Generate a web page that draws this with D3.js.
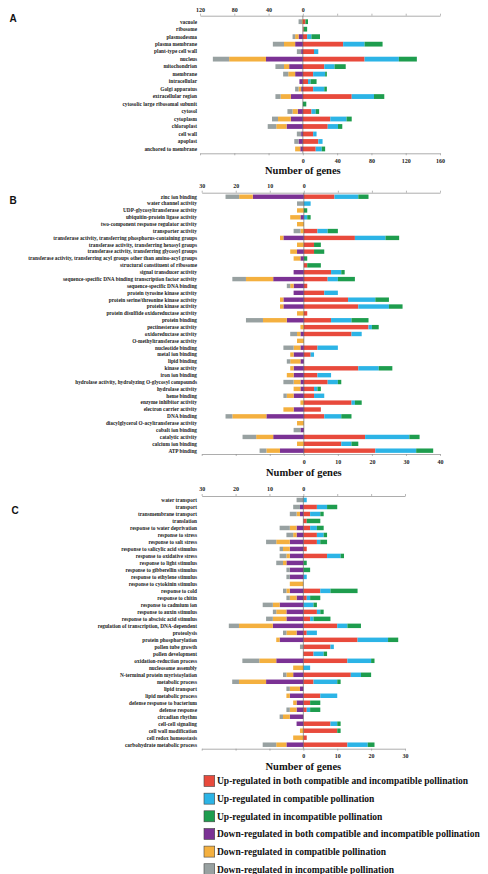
<!DOCTYPE html>
<html>
<head>
<meta charset="utf-8">
<script src="https://cdn.jsdelivr.net/npm/d3@7"></script>
<style>
  body { margin: 0; background: #fff; }
  svg text { font-family: "Liberation Serif", "Times New Roman", serif; font-weight: bold; }
</style>
</head>
<body>
<div id="chart"></div>
<script>
// series order: up-both, up-compatible, up-incompatible, down-both, down-compatible, down-incompatible
var seriesNames = [
  "Up-regulated in both compatible and incompatible pollination",
  "Up-regulated in compatible pollination",
  "Up-regulated in incompatible pollination",
  "Down-regulated in both compatible and incompatible pollination",
  "Down-regulated in compatible pollination",
  "Down-regulated in incompatible pollination"
];
var seriesColors = ["#e84a3c", "#2cb4e6", "#1e9d4e", "#7b3294", "#f4b03f", "#98a1a1"];

// Panel A - cellular component
var aCats = ["vacuole", "ribosome", "plasmodesma", "plasma membrane", "plant-type cell wall", "nucleus",
  "mitochondrion", "membrane", "intracellular", "Golgi apparatus", "extracellular region",
  "cytosolic large ribosomal subunit", "cytosol", "cytoplasm", "chloroplast", "cell wall", "apoplast",
  "anchored to membrane"];
var aUpBoth     = [3, 1, 5, 47, 13, 72, 25, 12, 6, 12, 57, 0, 10, 32, 29, 12, 18, 15];
var aUpComp     = [0, 0, 5, 25, 5, 40, 12, 14, 3, 13, 26, 0, 5, 19, 12, 4, 5, 7];
var aUpIncomp   = [3, 4, 10, 21, 0, 21, 13, 2, 7, 3, 12, 4, 4, 6, 5, 0, 0, 4];
var aDownBoth   = [0, 0, 5, 9, 2, 43, 16, 9, 4, 2, 14, 0, 6, 14, 19, 2, 5, 3];
var aDownComp   = [1, 0, 4, 13, 0, 43, 6, 8, 0, 3, 12, 0, 6, 15, 12, 0, 0, 6];
var aDownIncomp = [4, 0, 3, 13, 5, 19, 10, 6, 0, 4, 6, 0, 6, 7, 10, 5, 5, 0];
var aTicks = [-120, -80, -40, 0, 40, 80, 120, 160];

// Panel B - molecular function
var bCats = ["zinc ion binding", "water channel activity", "UDP-glycosyltransferase activity",
  "ubiquitin-protein ligase activity", "two-component response regulator activity", "transporter activity",
  "transferase activity, transferring phosphorus-containing groups",
  "transferase activity, transferring hexosyl groups", "transferase activity, transferring glycosyl groups",
  "transferase activity, transferring acyl groups other than amino-acyl groups",
  "structural constituent of ribosome", "signal transducer activity",
  "sequence-specific DNA binding transcription factor activity", "sequence-specific DNA binding",
  "protein tyrosine kinase activity", "protein serine/threonine kinase activity", "protein kinase activity",
  "protein disulfide oxidoreductase activity", "protein binding", "pectinesterase activity",
  "oxidoreductase activity", "O-methyltransferase activity", "nucleotide binding", "metal ion binding",
  "lipid binding", "kinase activity", "iron ion binding", "hydrolase activity, hydrolyzing O-glycosyl compounds",
  "hydrolase activity", "heme binding", "enzyme inhibitor activity", "electron carrier activity", "DNA binding",
  "diacylglycerol O-acyltransferase activity", "cobalt ion binding", "catalytic activity",
  "calcium ion binding", "ATP binding"];
var bUpBoth     = [9, 0, 0, 0, 0, 4, 15, 3, 3, 0, 1, 8, 7, 1, 6, 13, 16, 1, 8, 19, 14, 0, 4, 2, 0, 16, 4, 7, 3, 3, 14, 5, 6, 0, 0, 18, 11, 21];
var bUpComp     = [7, 2, 0, 1, 0, 3, 9, 0, 0, 0, 0, 3, 3, 0, 4, 8, 9, 0, 6, 1, 3, 0, 6, 1, 0, 6, 4, 3, 1, 3, 1, 0, 5, 0, 0, 13, 3, 12];
var bUpIncomp   = [3, 0, 1, 1, 0, 3, 4, 2, 3, 1, 4, 1, 5, 0, 0, 4, 4, 0, 5, 2, 0, 0, 0, 0, 0, 4, 0, 1, 1, 0, 2, 0, 3, 0, 0, 3, 2, 5];
var bDownBoth   = [15, 0, 0, 1, 0, 0, 6, 0, 2, 1, 0, 3, 9, 3, 3, 6, 6, 0, 5, 0, 1, 0, 1, 3, 1, 3, 3, 1, 1, 3, 0, 3, 11, 0, 1, 9, 0, 7];
var bDownComp   = [4, 0, 2, 3, 2, 1, 1, 2, 2, 2, 0, 0, 8, 1, 0, 1, 1, 2, 7, 1, 1, 2, 2, 1, 3, 1, 2, 2, 2, 2, 1, 3, 10, 2, 0, 5, 2, 4];
var bDownIncomp = [4, 2, 0, 0, 0, 2, 0, 0, 0, 0, 0, 0, 4, 1, 0, 0, 0, 0, 5, 0, 2, 0, 3, 0, 1, 0, 0, 3, 0, 1, 0, 0, 2, 0, 2, 4, 0, 2];
var bTicks = [-30, -20, -10, 0, 10, 20, 30, 40];

// Panel C - biological process
var cCats = ["water transport", "transport", "transmembrane transport", "translation",
  "response to water deprivation", "response to stress", "response to salt stress",
  "response to salicylic acid stimulus", "response to oxidative stress", "response to light stimulus",
  "response to gibberellin stimulus", "response to ethylene stimulus", "response to cytokinin stimulus",
  "response to cold", "response to chitin", "response to cadmium ion", "response to auxin stimulus",
  "response to abscisic acid stimulus", "regulation of transcription, DNA-dependent", "proteolysis",
  "protein phosphorylation", "pollen tube growth", "pollen development", "oxidation-reduction process",
  "nucleosome assembly", "N-terminal protein myristoylation", "metabolic process", "lipid transport",
  "lipid metabolic process", "defense response to bacterium", "defense response", "circadian rhythm",
  "cell-cell signaling", "cell wall modification", "cell redox homeostasis", "carbohydrate metabolic process"];
var cUpBoth     = [0, 4, 2, 1, 2, 4, 4, 1, 7, 0, 0, 0, 0, 5, 1, 0, 4, 2, 10, 1, 16, 8, 3, 13, 0, 14, 3, 0, 5, 2, 1, 0, 8, 10, 1, 13];
var cUpComp     = [1, 3, 3, 0, 2, 2, 1, 0, 4, 0, 0, 1, 0, 3, 1, 3, 1, 1, 3, 3, 9, 1, 3, 7, 2, 3, 7, 0, 5, 0, 1, 0, 2, 0, 0, 6];
var cUpIncomp   = [0, 3, 1, 4, 2, 1, 2, 0, 1, 1, 2, 0, 0, 8, 3, 1, 1, 5, 4, 0, 3, 0, 1, 1, 0, 3, 1, 0, 0, 3, 3, 0, 1, 1, 0, 2];
var cDownBoth   = [0, 1, 1, 0, 2, 2, 4, 4, 4, 5, 4, 4, 0, 4, 2, 7, 5, 5, 9, 2, 7, 0, 0, 8, 0, 3, 11, 1, 4, 2, 2, 4, 2, 0, 0, 5];
var cDownComp   = [0, 0, 1, 0, 2, 1, 4, 2, 1, 1, 0, 0, 4, 1, 2, 2, 3, 4, 10, 3, 1, 0, 0, 5, 3, 2, 8, 3, 1, 1, 2, 2, 0, 1, 3, 3];
var cDownIncomp = [2, 2, 2, 0, 3, 2, 3, 1, 2, 2, 1, 1, 0, 1, 1, 3, 1, 2, 3, 1, 0, 1, 0, 5, 0, 1, 2, 1, 0, 0, 1, 1, 0, 0, 0, 4];
var cTicks = [-30, -20, -10, 0, 10, 20, 30];

var width = 488, height = 874;

var svg = d3.select("#chart")
  .append("svg")
    .attr("width", width)
    .attr("height", height);

var keys = ["upBoth", "upComp", "upIncomp", "downBoth", "downComp", "downIncomp"];

function drawPanel(p) {
  // build rows; down-regulated counts go to the left (negative)
  var rows = p.cats.map(function(c, i) {
    return {
      cat: c,
      upBoth: p.series[0][i], upComp: p.series[1][i], upIncomp: p.series[2][i],
      downBoth: -p.series[3][i], downComp: -p.series[4][i], downIncomp: -p.series[5][i]
    };
  });

  var x = d3.scaleLinear().domain(p.domain).range(p.xRange);
  var y = d3.scaleBand().domain(p.cats).range(p.yRange).paddingInner(0.36).paddingOuter(0.18);

  var stacked = d3.stack().keys(keys).offset(d3.stackOffsetDiverging)(rows);

  var g = svg.append("g");

  g.selectAll("g.layer")
    .data(stacked)
    .enter()
    .append("g")
      .attr("class", "layer")
      .attr("fill", (d, i) => seriesColors[i])
    .selectAll("rect")
    .data(d => d)
    .enter()
    .append("rect")
      .attr("x", d => x(Math.min(d[0], d[1])))
      .attr("width", d => Math.abs(x(d[1]) - x(d[0])))
      .attr("y", d => y(d.data.cat))
      .attr("height", y.bandwidth());

  // category labels
  g.selectAll("text.cat")
    .data(p.cats)
    .enter()
    .append("text")
      .attr("class", "cat")
      .attr("x", 197)
      .attr("y", d => y(d) + y.bandwidth() / 2)
      .attr("dy", "0.35em")
      .attr("text-anchor", "end")
      .attr("font-size", 5.3)
      .attr("fill", "#222")
      .text(d => d);

  // axes
  var top = g.append("g")
    .attr("transform", "translate(0," + p.topY + ")")
    .call(d3.axisTop(x).tickValues(p.ticks).tickSize(2).tickSizeOuter(0).tickPadding(p.topPad)
      .tickFormat(d => d <= 0 ? Math.abs(d) : ""));
  var bottom = g.append("g")
    .attr("transform", "translate(0," + p.bottomY + ")")
    .call(d3.axisBottom(x).tickValues(p.ticks).tickSize(2).tickSizeOuter(0).tickPadding(p.bottomPad)
      .tickFormat(d => d >= 0 ? d : ""));
  [top, bottom].forEach(function(a) {
    a.select(".domain").attr("stroke", "#8a8a8a").attr("stroke-width", 0.7);
    a.selectAll(".tick line").attr("stroke", "#8a8a8a").attr("stroke-width", 0.6);
    a.selectAll(".tick text")
      .attr("font-size", 6)
      .attr("fill", "#222")
      .style("font-family", "'Liberation Serif', serif")
      .style("font-weight", "bold");
  });

  // zero line
  g.append("line")
    .attr("x1", x(0)).attr("x2", x(0))
    .attr("y1", p.topY).attr("y2", p.bottomY)
    .attr("stroke", "#555")
    .attr("stroke-width", 0.6);

  g.append("text")
    .attr("x", x(0))
    .attr("y", p.titleY)
    .attr("text-anchor", "middle")
    .attr("font-size", 10.5)
    .attr("fill", "#111")
    .text("Number of genes");

  svg.append("text")
    .attr("x", p.letterX)
    .attr("y", p.letterY)
    .attr("text-anchor", "middle")
    .attr("dy", "0.35em")
    .attr("font-size", 10)
    .style("font-family", "'Liberation Sans', Arial, sans-serif")
    .attr("fill", "#111")
    .text(p.letter);
}

drawPanel({
  letter: "A", letterX: 13, letterY: 18,
  cats: aCats, series: [aUpBoth, aUpComp, aUpIncomp, aDownBoth, aDownComp, aDownIncomp],
  domain: [-120, 160], xRange: [200, 440], ticks: aTicks,
  yRange: [17.95, 152.7], topY: 15.7, bottomY: 153.3, topPad: 1.6, bottomPad: 3.5, titleY: 173.5
});

drawPanel({
  letter: "B", letterX: 13, letterY: 200,
  cats: bCats, series: [bUpBoth, bUpComp, bUpIncomp, bDownBoth, bDownComp, bDownIncomp],
  domain: [-30, 40], xRange: [201.7, 440], ticks: bTicks,
  yRange: [193.3, 454.1], topY: 192.7, bottomY: 454, topPad: 2.9, bottomPad: 3.6, titleY: 475.5
});

drawPanel({
  letter: "C", letterX: 15, letterY: 510,
  cats: cCats, series: [cUpBoth, cUpComp, cUpIncomp, cDownBoth, cDownComp, cDownIncomp],
  domain: [-30, 30], xRange: [201.7, 405], ticks: cTicks,
  yRange: [496.5, 748.2], topY: 496, bottomY: 748.7, topPad: 2.9, bottomPad: 3.2, titleY: 770
});

// legend
var legend = svg.append("g");
var item = legend.selectAll("g")
  .data(seriesNames)
  .enter()
  .append("g")
    .attr("transform", (d, i) => "translate(204," + (781 + i * 17.65) + ")");

item.append("rect")
  .attr("x", 0)
  .attr("y", -5.5)
  .attr("width", 10.7)
  .attr("height", 11)
  .attr("fill", (d, i) => seriesColors[i])
  .attr("stroke", "#444")
  .attr("stroke-width", 0.6);

item.append("text")
  .attr("x", 13)
  .attr("y", 0)
  .attr("dy", "0.35em")
  .attr("font-size", 9.5)
  .attr("fill", "#111")
  .text(d => d);
</script>
</body>
</html>
